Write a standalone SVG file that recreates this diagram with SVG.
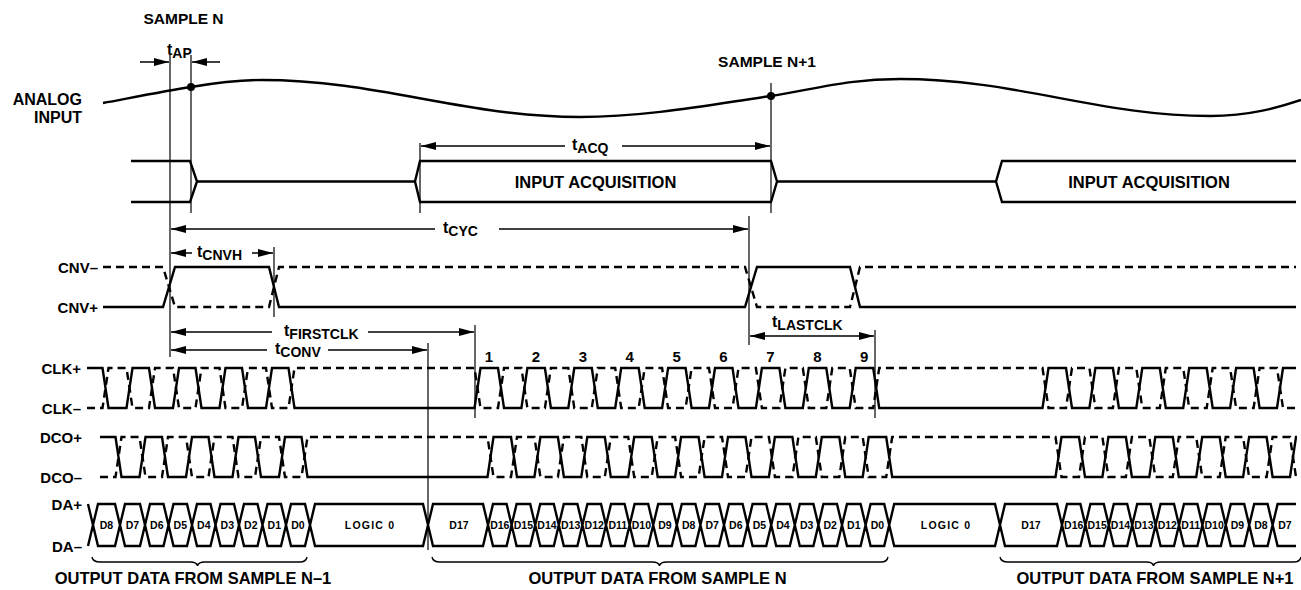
<svg xmlns="http://www.w3.org/2000/svg" xmlns:xlink="http://www.w3.org/1999/xlink" width="1301" height="590" viewBox="0 0 1301 590">
<style>
text{font-family:"Liberation Sans",Arial,sans-serif;font-weight:bold;fill:#000}
.lbl{font-size:16px}
.sig{font-size:15px;text-anchor:end}
.tt{font-size:16px}
.sub{font-size:14px}
.cell{font-size:10.5px;text-anchor:middle}
.big{font-size:16.5px;text-anchor:middle}
.num{font-size:15px;text-anchor:middle}
.w{fill:none;stroke:#000;stroke-width:2.4;stroke-linejoin:miter}
.d{fill:none;stroke:#000;stroke-width:2.4;stroke-dasharray:8 5}
.v{stroke:#000;stroke-width:1.2;fill:none}
.a{stroke:#000;stroke-width:1.5;fill:none;marker-end:url(#ah)}
</style>
<defs>
<marker id="ah" markerUnits="userSpaceOnUse" markerWidth="15" markerHeight="8" refX="15" refY="4" orient="auto"><path d="M0,0 L15,4 L0,8 z" fill="#000"/></marker>
<clipPath id="clipR"><rect x="0" y="0" width="1297" height="590"/></clipPath>
</defs>
<rect width="1301" height="590" fill="#fff"/>

<g id="analog">
<text class="lbl" x="82" y="105" text-anchor="end">ANALOG</text>
<text class="lbl" x="82" y="123" text-anchor="end">INPUT</text>
<path class="w" d="M103,103 C130,98 165,91 191,87 C215,83 235,80 262,80 C378,80 464,117 580,117 C650,117 720,103 771,96 C820,88 850,79 900,79 C1015,79 1100,116 1210,116 C1250,116 1280,107 1301,100"/>
<circle cx="191" cy="87" r="4"/>
<circle cx="771" cy="96" r="4"/>
<text class="lbl" x="183.5" y="24" text-anchor="middle" style="font-size:15.5px">SAMPLE N</text>
<text class="lbl" x="767" y="67" text-anchor="middle" style="font-size:15.5px">SAMPLE N+1</text>
</g>

<g id="acquisition">
<path class="w" d="M131,161 H190 L197,181.5 L190,202 H131"/>
<path class="w" d="M197,181.5 H415 L420,161 H771 L777,181.5 L771,202 H420 L415,181.5"/>
<path class="w" d="M777,181.5 H996 L1002,161 H1296 M996,181.5 L1002,202 H1296"/>
<text class="big" x="595.5" y="188">INPUT ACQUISITION</text>
<text class="big" x="1149" y="188">INPUT ACQUISITION</text>
</g>

<g id="cnv">
<text class="sig" x="98" y="272.5">CNV–</text>
<text class="sig" x="98" y="312.5">CNV+</text>
<path class="w" d="M103,307 H163 L175,267 H269 L279,307 H745 L757,267 H850 L860,307 H1296"/>
<path class="d" d="M103,267 H163 L175,307 H269 L279,267 H745 L757,307 H850 L860,267 H1296"/>
</g>

<g id="clk">
<text class="sig" x="81" y="373.5">CLK+</text>
<text class="sig" x="81" y="413.5">CLK–</text>
<path id="clkS" class="w" d="M87,368 H102.5 L108.5,408 H126.5 L132.5,368 H149 L155,408 H173 L179,368 H195.5 L201.5,408 H219.5 L225.5,368 H242 L248,408 H266 L272,368 H288.5 L294.5,408 H474.5 L480.5,368 H498 L504,408 H521.4 L527.4,368 H544.9 L550.9,408 H568.3 L574.3,368 H591.8 L597.8,408 H615.2 L621.2,368 H638.7 L644.7,408 H662.1 L668.1,368 H685.6 L691.6,408 H709 L715,368 H732.5 L738.5,408 H755.9 L761.9,368 H779.4 L785.4,408 H802.8 L808.8,368 H826.3 L832.3,408 H849.7 L855.7,368 H873.2 L879.2,408 H1042.5 L1048.5,368 H1066 L1072,408 H1089.4 L1095.4,368 H1112.9 L1118.9,408 H1136.3 L1142.3,368 H1159.8 L1165.8,408 H1183.2 L1189.2,368 H1206.7 L1212.7,408 H1230.1 L1236.1,368 H1253.6 L1259.6,408 H1277 L1283,368 H1296"/>
<path id="clkD" class="d" d="M87,408 H102.5 L108.5,368 H126.5 L132.5,408 H149 L155,368 H173 L179,408 H195.5 L201.5,368 H219.5 L225.5,408 H242 L248,368 H266 L272,408 H288.5 L294.5,368 H474.5 L480.5,408 H498 L504,368 H521.4 L527.4,408 H544.9 L550.9,368 H568.3 L574.3,408 H591.8 L597.8,368 H615.2 L621.2,408 H638.7 L644.7,368 H662.1 L668.1,408 H685.6 L691.6,368 H709 L715,408 H732.5 L738.5,368 H755.9 L761.9,408 H779.4 L785.4,368 H802.8 L808.8,408 H826.3 L832.3,368 H849.7 L855.7,408 H873.2 L879.2,368 H1042.5 L1048.5,408 H1066 L1072,368 H1089.4 L1095.4,408 H1112.9 L1118.9,368 H1136.3 L1142.3,408 H1159.8 L1165.8,368 H1183.2 L1189.2,408 H1206.7 L1212.7,368 H1230.1 L1236.1,408 H1253.6 L1259.6,368 H1277 L1283,408 H1296"/>
<text class="num" x="489" y="362">1</text>
<text class="num" x="535.9" y="362">2</text>
<text class="num" x="582.8" y="362">3</text>
<text class="num" x="629.7" y="362">4</text>
<text class="num" x="676.6" y="362">5</text>
<text class="num" x="723.5" y="362">6</text>
<text class="num" x="770.4" y="362">7</text>
<text class="num" x="817.3" y="362">8</text>
<text class="num" x="864.2" y="362">9</text>
</g>

<g id="dco">
<text class="sig" x="82" y="442.5">DCO+</text>
<text class="sig" x="82" y="482.5">DCO–</text>
<g clip-path="url(#clipR)">
<use xlink:href="#clkS" href="#clkS" transform="translate(13,69)"/>
<use xlink:href="#clkD" href="#clkD" transform="translate(13,69)"/>
</g>
</g>

<g id="da">
<text class="sig" x="82" y="509.5">DA+</text>
<text class="sig" x="82" y="551.5">DA–</text>
<path class="w" d="M88,504 L93,525 L88,546
M93,525 L98,504 H115 L120,525 L115,546 H98 Z
M120,525 L125,504 H140 L145,525 L140,546 H125 Z
M145,525 L150,504 H163.5 L168.5,525 L163.5,546 H150 Z
M168.5,525 L173.5,504 H187 L192,525 L187,546 H173.5 Z
M192,525 L197,504 H210.5 L215.5,525 L210.5,546 H197 Z
M215.5,525 L220.5,504 H234 L239,525 L234,546 H220.5 Z
M239,525 L244,504 H257.5 L262.5,525 L257.5,546 H244 Z
M262.5,525 L267.5,504 H281 L286,525 L281,546 H267.5 Z
M286,525 L291,504 H305 L310,525 L305,546 H291 Z
M310,525 L315,504 H423 L428,525 L423,546 H315 Z
M428,525 L433,504 H483 L488,525 L483,546 H433 Z
M488,525 L493,504 H506.6 L511.6,525 L506.6,546 H493 Z
M511.6,525 L516.6,504 H530.2 L535.2,525 L530.2,546 H516.6 Z
M535.2,525 L540.2,504 H553.8 L558.8,525 L553.8,546 H540.2 Z
M558.8,525 L563.8,504 H577.4 L582.4,525 L577.4,546 H563.8 Z
M582.4,525 L587.4,504 H601 L606,525 L601,546 H587.4 Z
M606,525 L611,504 H624.6 L629.6,525 L624.6,546 H611 Z
M629.6,525 L634.6,504 H648.2 L653.2,525 L648.2,546 H634.6 Z
M653.2,525 L658.2,504 H671.8 L676.8,525 L671.8,546 H658.2 Z
M676.8,525 L681.8,504 H695.4 L700.4,525 L695.4,546 H681.8 Z
M700.4,525 L705.4,504 H719 L724,525 L719,546 H705.4 Z
M724,525 L729,504 H742.6 L747.6,525 L742.6,546 H729 Z
M747.6,525 L752.6,504 H766.2 L771.2,525 L766.2,546 H752.6 Z
M771.2,525 L776.2,504 H789.8 L794.8,525 L789.8,546 H776.2 Z
M794.8,525 L799.8,504 H813.4 L818.4,525 L813.4,546 H799.8 Z
M818.4,525 L823.4,504 H837 L842,525 L837,546 H823.4 Z
M842,525 L847,504 H860.6 L865.6,525 L860.6,546 H847 Z
M865.6,525 L870.6,504 H884.2 L889.2,525 L884.2,546 H870.6 Z
M889.2,525 L894.2,504 H995 L1000,525 L995,546 H894.2 Z
M1000,525 L1005,504 H1057 L1062,525 L1057,546 H1005 Z
M1062,525 L1067,504 H1080.4 L1085.4,525 L1080.4,546 H1067 Z
M1085.4,525 L1090.4,504 H1103.8 L1108.8,525 L1103.8,546 H1090.4 Z
M1108.8,525 L1113.8,504 H1127.2 L1132.2,525 L1127.2,546 H1113.8 Z
M1132.2,525 L1137.2,504 H1150.6 L1155.6,525 L1150.6,546 H1137.2 Z
M1155.6,525 L1160.6,504 H1174 L1179,525 L1174,546 H1160.6 Z
M1179,525 L1184,504 H1197.4 L1202.4,525 L1197.4,546 H1184 Z
M1202.4,525 L1207.4,504 H1220.8 L1225.8,525 L1220.8,546 H1207.4 Z
M1225.8,525 L1230.8,504 H1244.2 L1249.2,525 L1244.2,546 H1230.8 Z
M1249.2,525 L1254.2,504 H1267.6 L1272.6,525 L1267.6,546 H1254.2 Z
M1296,504 H1277.6 L1272.6,525 L1277.6,546 H1296"/>
<text class="cell" x="106.5" y="529">D8</text>
<text class="cell" x="132.5" y="529">D7</text>
<text class="cell" x="156.8" y="529">D6</text>
<text class="cell" x="180.3" y="529">D5</text>
<text class="cell" x="203.8" y="529">D4</text>
<text class="cell" x="227.3" y="529">D3</text>
<text class="cell" x="250.8" y="529">D2</text>
<text class="cell" x="274.3" y="529">D1</text>
<text class="cell" x="298" y="529">D0</text>
<text class="cell" x="370" y="529" style="letter-spacing:1.2px">LOGIC 0</text>
<text class="cell" x="459" y="529">D17</text>
<text class="cell" x="499.8" y="529">D16</text>
<text class="cell" x="523.4" y="529">D15</text>
<text class="cell" x="547" y="529">D14</text>
<text class="cell" x="570.6" y="529">D13</text>
<text class="cell" x="594.2" y="529">D12</text>
<text class="cell" x="617.8" y="529">D11</text>
<text class="cell" x="641.4" y="529">D10</text>
<text class="cell" x="665" y="529">D9</text>
<text class="cell" x="688.6" y="529">D8</text>
<text class="cell" x="712.2" y="529">D7</text>
<text class="cell" x="735.8" y="529">D6</text>
<text class="cell" x="759.4" y="529">D5</text>
<text class="cell" x="783" y="529">D4</text>
<text class="cell" x="806.6" y="529">D3</text>
<text class="cell" x="830.2" y="529">D2</text>
<text class="cell" x="853.8" y="529">D1</text>
<text class="cell" x="877.4" y="529">D0</text>
<text class="cell" x="946" y="529" style="letter-spacing:1.2px">LOGIC 0</text>
<text class="cell" x="1031" y="529">D17</text>
<text class="cell" x="1073.7" y="529">D16</text>
<text class="cell" x="1097.1" y="529">D15</text>
<text class="cell" x="1120.5" y="529">D14</text>
<text class="cell" x="1143.9" y="529">D13</text>
<text class="cell" x="1167.3" y="529">D12</text>
<text class="cell" x="1190.7" y="529">D11</text>
<text class="cell" x="1214.1" y="529">D10</text>
<text class="cell" x="1237.5" y="529">D9</text>
<text class="cell" x="1260.9" y="529">D8</text>
<text class="cell" x="1285" y="529">D7</text>
</g>

<g id="braces">
<path class="v" style="stroke-width:1.4" d="M92,557 Q93,562 100,562 H190 Q197,562 197.5,566 Q198,562 205,562 H300 Q306,562 307,557"/>
<path class="v" style="stroke-width:1.4" d="M432,557 Q433,562 440,562 H652 Q659,562 659.5,566 Q660,562 667,562 H881 Q887,562 888,557"/>
<path class="v" style="stroke-width:1.4" d="M1000,557 Q1001,562 1008,562 H1146 Q1153,562 1153.5,566 Q1154,562 1161,562 H1294 Q1300,562 1301,557"/>
<text class="big" x="193" y="584">OUTPUT DATA FROM SAMPLE N–1</text>
<text class="big" x="657.5" y="584">OUTPUT DATA FROM SAMPLE N</text>
<text class="big" x="1155" y="584">OUTPUT DATA FROM SAMPLE N+1</text>
</g>

<g id="connectors">
<line class="v" x1="170" y1="55" x2="170" y2="357"/>
<line class="v" x1="191" y1="55" x2="191" y2="213"/>
<line class="v" x1="420" y1="143" x2="420" y2="213"/>
<line class="v" x1="771" y1="83" x2="771" y2="213"/>
<line class="v" x1="749" y1="216" x2="749" y2="345"/>
<line class="v" x1="274" y1="247" x2="274" y2="317"/>
<line class="v" x1="475" y1="325" x2="475" y2="418"/>
<line class="v" x1="428" y1="343" x2="428" y2="550"/>
<line class="v" x1="875" y1="330" x2="875" y2="418"/>

<line class="a" x1="140" y1="62" x2="169" y2="62"/>
<line class="a" x1="220" y1="62" x2="192" y2="62"/>
<line class="a" x1="565" y1="146" x2="421" y2="146"/>
<line class="a" x1="622" y1="146" x2="770" y2="146"/>
<line class="a" x1="435" y1="229" x2="171" y2="229"/>
<line class="a" x1="499" y1="229" x2="748" y2="229"/>
<line class="a" x1="192" y1="253" x2="171" y2="253"/>
<line class="a" x1="252" y1="253" x2="273" y2="253"/>
<line class="a" x1="272" y1="332" x2="171" y2="332"/>
<line class="a" x1="368" y1="332" x2="474" y2="332"/>
<line class="a" x1="267" y1="350" x2="171" y2="350"/>
<line class="a" x1="328" y1="350" x2="427" y2="350"/>
<line class="a" x1="812" y1="336" x2="750" y2="336"/>
<line class="a" x1="812" y1="336" x2="874" y2="336"/>

<text class="tt" x="167" y="55">t<tspan class="sub" dy="3">AP</tspan></text>
<text class="tt" x="572" y="150">t<tspan class="sub" dy="3">ACQ</tspan></text>
<text class="tt" x="443" y="233">t<tspan class="sub" dy="3">CYC</tspan></text>
<text class="tt" x="197" y="257">t<tspan class="sub" dy="3">CNVH</tspan></text>
<text class="tt" x="284" y="336">t<tspan class="sub" dy="3">FIRSTCLK</tspan></text>
<text class="tt" x="275" y="354">t<tspan class="sub" dy="3">CONV</tspan></text>
<text class="tt" x="772" y="327">t<tspan class="sub" dy="3">LASTCLK</tspan></text>
</g>
</svg>
